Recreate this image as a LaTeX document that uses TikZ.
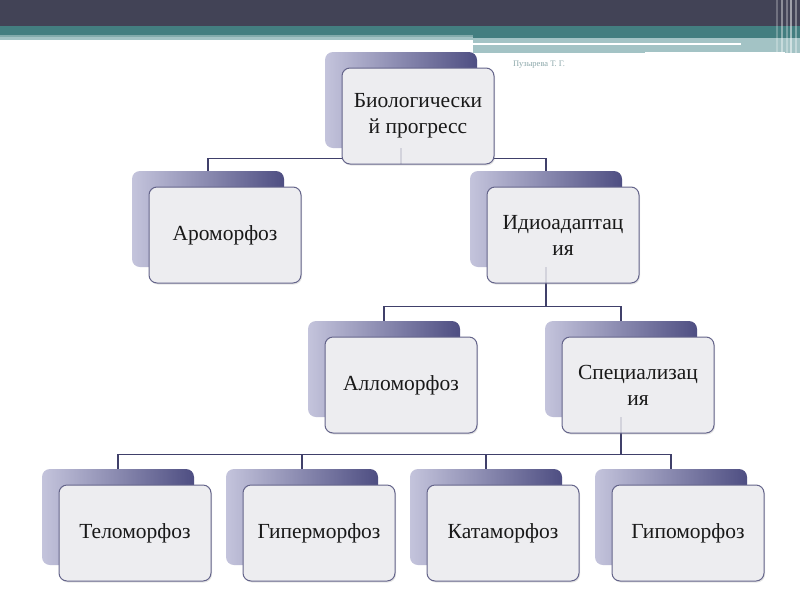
\documentclass[tikz,border=0pt]{standalone}
\usepackage{fontspec}
\setmainfont{Liberation Serif}
\usetikzlibrary{positioning, shadows}

\definecolor{slatebar}{RGB}{66,67,86}
\definecolor{tealbar}{RGB}{67,126,128}
\definecolor{tealmid}{RGB}{130,170,171}
\definecolor{tealpale}{RGB}{163,195,197}
\definecolor{backleft}{RGB}{196,196,220}
\definecolor{backright}{RGB}{78,78,130}
\definecolor{frontfill}{RGB}{237,237,240}
\definecolor{frontline}{RGB}{100,100,138}
\definecolor{linkline}{RGB}{64,64,106}
\definecolor{authorgray}{RGB}{140,168,170}

\begin{document}
\begin{tikzpicture}[x=1pt, y=-1pt,
  backbox/.style={rounded corners=8pt, left color=backleft, right color=backright, minimum width=152pt, minimum height=96pt, inner sep=0pt},
  frontbox/.style={draw=frontline, line width=1pt, rounded corners=8pt, fill=frontfill, minimum width=152pt, minimum height=96pt, inner sep=0pt, align=center, font=\fontsize{21.5}{26}\selectfont, text=black!90, drop shadow={shadow xshift=1pt, shadow yshift=-1.5pt, opacity=0.2}},
  link/.style={draw=linkline, line width=1.4pt},
  author/.style={font=\fontsize{8.5}{10}\selectfont, text=authorgray}
]

% page and title bar
\fill[white] (0,0) rectangle (800,600);
\useasboundingbox (0,0) rectangle (800,600);
\fill[slatebar] (0,0) rectangle (800,26);
\fill[tealbar]  (0,26) rectangle (800,35);
\fill[tealmid]  (0,35) rectangle (473,37);
\fill[tealpale] (0,37) rectangle (473,40);
\fill[tealbar]  (473,35) rectangle (800,38);
\fill[tealpale] (473,38) rectangle (800,53);
\fill[white]    (473,43) rectangle (741,45);
\fill[white]    (645,52) rectangle (785,53);
\foreach \x/\o in {776/0.25, 781/0.4, 786/0.3, 790/0.5, 795/0.35}
  \fill[white, opacity=\o] (\x,0) rectangle ++(2,54);

\node[author] (name) at (539,65) {Пузырева Т. Г.};

% back boxes
\node[backbox] (bioB)   at (401,100) {};
\node[backbox] (aroB)   at (208,219) {};
\node[backbox] (idioB)  at (546,219) {};
\node[backbox] (alloB)  at (384,369) {};
\node[backbox] (specB)  at (621,369) {};
\node[backbox] (teloB)  at (118,517) {};
\node[backbox] (hyperB) at (302,517) {};
\node[backbox] (kataB)  at (486,517) {};
\node[backbox] (hypoB)  at (671,517) {};

% links
\draw[link] (bioB.south) -- ++(0,10) -| (aroB.north);
\draw[link] (bioB.south) -- ++(0,10) -| (idioB.north);
\draw[link] (idioB.south) -- ++(0,39) -| (alloB.north);
\draw[link] (idioB.south) -- ++(0,39) -| (specB.north);
\foreach \n in {teloB, hyperB, kataB, hypoB}
  \draw[link] (specB.south) -- ++(0,37) -| (\n.north);

% front boxes
\node[frontbox] (bio)   at (418,116) {Биологически\\й прогресс};
\node[frontbox] (aro)   at (225,235) {Ароморфоз};
\node[frontbox] (idio)  at (563,235) {Идиоадаптац\\ия};
\node[frontbox] (allo)  at (401,385) {Алломорфоз};
\node[frontbox] (spec)  at (638,385) {Специализац\\ия};
\node[frontbox] (telo)  at (135,533) {Теломорфоз};
\node[frontbox] (hyper) at (319,533) {Гиперморфоз};
\node[frontbox] (kata)  at (503,533) {Катаморфоз};
\node[frontbox] (hypo)  at (688,533) {Гипоморфоз};

% stems seen through the front boxes
\foreach \n in {bioB, idioB, specB}
  \draw[link, opacity=0.15] (\n.south) -- ++(0,16);

\end{tikzpicture}
\end{document}
